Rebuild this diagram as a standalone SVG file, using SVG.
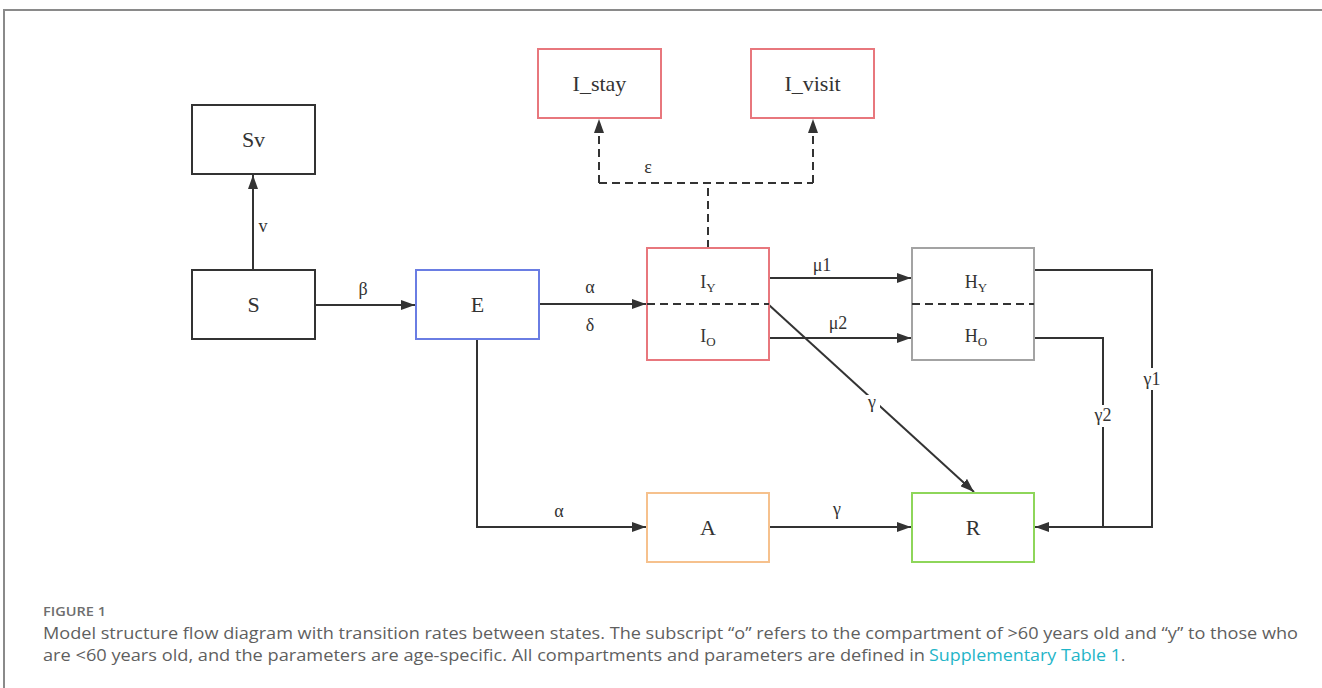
<svg xmlns="http://www.w3.org/2000/svg" width="1322" height="688" viewBox="0 0 1322 688">
<style>
.box{fill:#fff;stroke-width:2}
.blk{stroke:#333}
.lbl{font-family:"Liberation Serif","Times New Roman",serif;font-size:22px;fill:#333;text-anchor:middle}
.lbl2{font-family:"Liberation Serif","Times New Roman",serif;font-size:18px;fill:#333;text-anchor:middle}
.sub{font-size:13px}
.rate{font-family:"Liberation Serif","Times New Roman",serif;font-size:18px;fill:#333;text-anchor:middle}
.ln{fill:none;stroke:#333;stroke-width:2}
.dash{fill:none;stroke:#333;stroke-width:2;stroke-dasharray:8 5}
.cap{font-family:"Open Sans","Noto Sans","Liberation Sans",sans-serif;font-size:16px;fill:#5f5f5f}
.fig{font-family:"Open Sans","Noto Sans","Liberation Sans",sans-serif;font-size:13px;font-weight:600;fill:#6e6e6e}
.bg{fill:#fff}
</style>
<defs>
<marker id="arr" viewBox="0 0 14 10" refX="14" refY="5" markerWidth="14" markerHeight="10" markerUnits="userSpaceOnUse" orient="auto">
<path d="M0,0 L14,5 L0,10 Z" fill="#333"/>
</marker>
</defs>
<rect width="1322" height="688" fill="#fff"/>
<path d="M4,700 V10 H1330" fill="none" stroke="#8a8a8a" stroke-width="2"/>

<g id="connectors">
<path class="ln" d="M253,270 V175" marker-end="url(#arr)"/>
<path class="ln" d="M315,305 H415" marker-end="url(#arr)"/>
<path class="ln" d="M539,304 H646" marker-end="url(#arr)"/>
<path class="ln" d="M769,278 H911" marker-end="url(#arr)"/>
<path class="ln" d="M769,338 H911" marker-end="url(#arr)"/>
<path class="ln" d="M769,305 L974,492" marker-end="url(#arr)"/>
<path class="ln" d="M477,339 V527 H646" marker-end="url(#arr)"/>
<path class="ln" d="M769,527 H911" marker-end="url(#arr)"/>
<path class="ln" d="M1034,270 H1152 V527 H1035" marker-end="url(#arr)"/>
<path class="ln" d="M1034,338 H1103 V527"/>
<path class="dash" d="M708,248 V183"/>
<path class="dash" d="M599,183 H813"/>
<path class="dash" d="M599,183 V119" marker-end="url(#arr)"/>
<path class="dash" d="M813,183 V119" marker-end="url(#arr)"/>
<rect class="bg" x="864" y="395" width="16" height="16"/>
<rect class="bg" x="1142" y="368" width="20" height="22"/>
<rect class="bg" x="1093" y="405" width="20" height="22"/>
<text class="rate" x="263" y="232">v</text>
<text class="rate" x="363" y="295">β</text>
<text class="rate" x="648" y="173">ε</text>
<text class="rate" x="590" y="293">α</text>
<text class="rate" x="590" y="331">δ</text>
<text class="rate" x="822" y="271">μ1</text>
<text class="rate" x="838" y="329">μ2</text>
<text class="rate" x="872" y="408">γ</text>
<text class="rate" x="559" y="517">α</text>
<text class="rate" x="837" y="515">γ</text>
<text class="rate" x="1152" y="385">γ1</text>
<text class="rate" x="1103" y="421">γ2</text>
</g>

<g id="node-Sv"><rect class="box blk" x="192" y="105" width="123" height="69"/><text class="lbl" x="253.5" y="147">Sv</text></g>
<g id="node-S"><rect class="box blk" x="192" y="270" width="123" height="69"/><text class="lbl" x="253.5" y="312">S</text></g>
<g id="node-E"><rect class="box" stroke="#6a7de3" x="416" y="270" width="123" height="69"/><text class="lbl" x="477.5" y="312">E</text></g>
<g id="node-Istay"><rect class="box" stroke="#e8777d" x="538" y="49" width="123" height="69"/><text class="lbl" x="599.5" y="91">I_stay</text></g>
<g id="node-Ivisit"><rect class="box" stroke="#e8777d" x="751" y="49" width="123" height="69"/><text class="lbl" x="812.5" y="91">I_visit</text></g>
<g id="node-I">
<rect class="box" stroke="#e8777d" x="647" y="248" width="122" height="112"/>
<path class="dash" d="M647,304 H769"/>
<text class="lbl2" x="708" y="288">I<tspan class="sub" dy="4">Y</tspan></text>
<text class="lbl2" x="708" y="342">I<tspan class="sub" dy="4">O</tspan></text>
</g>
<g id="node-H">
<rect class="box" stroke="#a3a3a3" x="912" y="248" width="122" height="112"/>
<path class="dash" d="M912,304 H1034"/>
<text class="lbl2" x="976" y="288">H<tspan class="sub" dy="4">Y</tspan></text>
<text class="lbl2" x="976" y="342">H<tspan class="sub" dy="4">O</tspan></text>
</g>
<g id="node-A"><rect class="box" stroke="#f6c18d" x="647" y="493" width="122" height="69"/><text class="lbl" x="708" y="535">A</text></g>
<g id="node-R"><rect class="box" stroke="#8ed65a" x="912" y="493" width="122" height="69"/><text class="lbl" x="973" y="535">R</text></g>

<g id="caption">
<text class="fig" x="43" y="616" textLength="63" lengthAdjust="spacingAndGlyphs">FIGURE 1</text>
<text class="cap" x="43" y="639" textLength="1255" lengthAdjust="spacingAndGlyphs">Model structure flow diagram with transition rates between states. The subscript “o” refers to the compartment of &gt;60 years old and “y” to those who</text>
<text class="cap" x="43" y="661" textLength="882" lengthAdjust="spacingAndGlyphs">are &lt;60 years old, and the parameters are age-specific. All compartments and parameters are defined in</text>
<text class="cap" x="929" y="661" textLength="192" lengthAdjust="spacingAndGlyphs" style="fill:#1fb5c8">Supplementary Table 1</text>
<text class="cap" x="1121" y="661">.</text>
</g>
</svg>
